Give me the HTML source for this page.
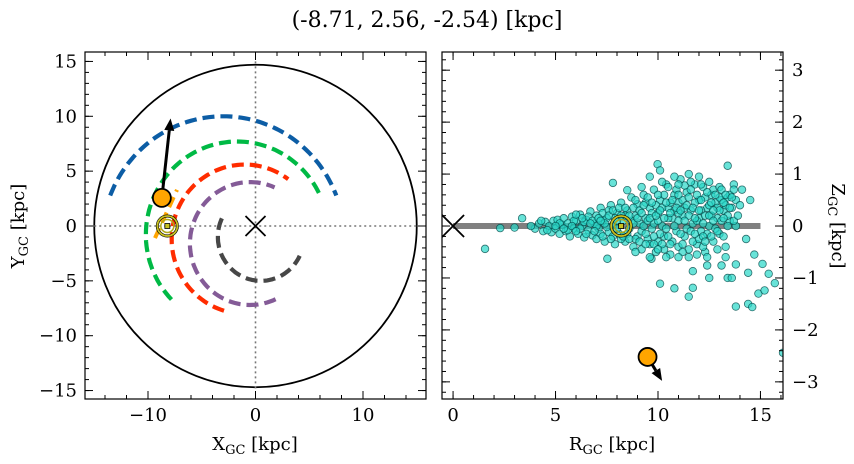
<!DOCTYPE html>
<html><head><meta charset="utf-8"><style>
body{margin:0;background:#fff}
svg{display:block;font-family:"DejaVu Serif","Liberation Serif",serif}
</style></head><body>
<svg id="c" width="854" height="464" viewBox="0 0 854 464"></svg>
<script>
// ---- data ----
const title = "(-8.71, 2.56, -2.54) [kpc]";
const starXY = [-8.71, 2.56];
const starVelEndXY = [-7.9, 9.8];
const starRZ = [9.49, -2.52];
const starVelEndRZ = [10.2, -2.98];
const sunXY = [-8.2, 0];
const sunRZ = [8.2, 0];
const leftXTicks = [-10, 0, 10];
const leftYTicks = [-15, -10, -5, 0, 5, 10, 15];
const rightXTicks = [0, 5, 10, 15];
const rightYTicks = [-3, -2, -1, 0, 1, 2, 3];
const arcNames = ["blue", "green", "red", "purple", "gray"];
const arcColors = ["#0c5da5", "#00b945", "#ff2c00", "#845b97", "#474747"];
const arcCx = [-3, -1.7, -1, -0.5, 0.5];
const arcCy = [-1.26, -0.8, -1.2, -1.6, -1];
const arcR = [11.26, 8.5, 6.8, 5.6, 4];
const arcT0 = [159, 224, 253.5, 295, 155];
const arcT1 = [21, 26, 53.5, 66, 334.6];
const orangeSeg = [[-9.35, -1.1], [-7.3, 3.3]];
const starR = [1.56,2.3,3.37,3.0,7.8,9.98,10.1,13.4,8.5,7.53,9.68,10.1,10.8,11.5,11.7,11.7,13.8,14.4,14.6,15.7,14.9,15.2,15.4,15.1,14.7,14.4,13.8,13.4,13.6,12.4,12.5,13.1,14.5,14.1,13.7,14.3,13.8,16.1,
4.0,4.2,4.4,4.5,4.7,4.8,4.9,5.0,5.1,5.2,5.3,5.4,5.5,
5.6,5.7,5.8,5.9,6.0,6.1,6.2,6.3,6.4,6.5,6.6,6.7,6.8,6.9,7.0,7.0,7.1,7.2,7.3,7.4,7.5,7.6,7.7,7.8,
7.9,8.0,8.1,8.2,8.3,8.4,8.5,8.6,8.7,8.8,8.9,9.0,9.0,9.1,9.2,9.3,9.4,9.5,9.6,9.7,9.8,9.9,10.0,10.0,
10.1,10.2,10.3,10.4,10.5,10.6,10.7,10.8,10.9,11.0,11.0,11.1,11.2,11.3,11.4,11.5,11.6,11.7,11.8,11.9,12.0,12.0,12.1,12.2,12.3,12.4,12.5,12.6,12.7,12.8,12.9,13.0,13.1,13.2,13.3,13.4,13.5,
5.2,5.6,5.9,6.2,6.4,6.6,6.8,7.0,7.2,7.3,7.5,7.6,7.8,7.9,8.0,8.2,8.4,8.5,8.7,8.8,8.9,9.1,9.2,9.3,9.4,9.5,9.6,9.7,9.8,9.9,10.0,10.1,10.2,10.3,10.4,10.5,10.6,10.7,10.8,10.9,11.0,11.1,11.2,11.3,11.4,11.5,11.6,11.7,11.8,11.9,12.0,12.1,12.2,12.3,12.4,12.5,12.6,12.7,12.8,12.9,13.0,13.1,13.2,13.3,13.4,13.5,13.6,13.7,13.8,11.5,12.2,10.3,9.8,11.0,12.6,13.0,12.0,11.5,10.8,9.6,11.3,12.5,
5.0,5.4,5.8,6.0,6.3,6.5,6.7,6.9,7.1,7.3,7.4,7.6,7.7,7.8,8.0,8.1,8.3,8.4,8.6,8.6,8.8,8.9,9.0,9.1,9.2,9.3,9.4,9.5,9.6,9.7,9.8,9.9,10.0,10.1,10.2,10.3,10.4,10.5,10.6,10.7,10.8,10.9,11.0,11.1,11.2,11.3,11.4,11.5,11.6,11.7,11.8,11.9,12.0,12.1,12.2,12.3,12.4,12.5,12.6,12.7,12.8,12.9,13.0,13.1,13.2,13.3,13.4,13.5,13.6,13.7,13.2,12.3,11.8,11.2,10.6,10.0,9.4,8.2,7.2,6.0,4.6,3.8,4.3,12.7,12.1,11.6,11.0,10.5,10.2,9.2,13.9,14.0,13.3,12.9,12.4,11.9,11.0,10.4,9.6,8.9];
const starZ = [-0.44,-0.04,0.15,-0.03,0.83,1.19,1.07,1.16,0.69,-0.63,-0.63,-1.11,-1.2,-1.36,-1.19,-0.87,-1.55,-1.5,-1.56,-1.1,-1.3,-1.24,-0.92,-0.73,-0.55,-0.9,-0.74,-1.0,-1.0,-0.76,-1.0,-0.76,0.5,0.7,0.8,-0.25,0.0,-2.44,
-0.05,0.05,-0.1,0.08,0.0,-0.12,0.1,-0.05,0.12,-0.15,0.03,0.15,-0.1,
0.05,-0.2,0.18,-0.05,0.1,-0.15,0.22,0.0,-0.22,0.12,-0.08,0.28,-0.18,0.05,0.2,-0.25,-0.05,0.35,0.1,-0.3,0.15,-0.12,0.4,0.02,
-0.35,0.25,-0.15,0.45,0.1,-0.3,0.3,-0.05,0.55,-0.4,0.2,-0.2,0.42,0.05,-0.45,0.6,0.15,-0.25,0.35,-0.05,0.7,-0.5,0.25,-0.3,
0.5,0.0,-0.2,0.8,0.35,-0.55,0.15,0.6,-0.1,0.45,-0.4,0.9,0.2,-0.2,0.65,-0.6,0.3,0.05,0.8,-0.35,0.5,0.15,-0.1,0.75,-0.5,0.35,0.0,0.6,-0.3,0.45,0.15,-0.15,0.5,0.3,-0.4,0.55,0.1,
0.05,-0.08,0.1,-0.05,0.08,0.18,0.1,0.0,-0.15,0.25,-0.02,0.3,-0.2,0.15,-0.05,-0.25,0.2,-0.15,0.1,0.35,-0.25,0.3,-0.1,0.0,0.45,0.1,-0.35,0.25,0.05,0.4,0.1,-0.15,0.35,0.6,-0.05,0.15,0.45,-0.3,0.3,0.7,0.1,-0.15,0.5,0.35,-0.05,0.2,0.7,-0.3,0.45,0.1,-0.25,0.3,0.05,0.55,-0.15,0.4,0.2,0.7,-0.05,0.35,0.55,0.1,-0.2,0.4,0.2,0.6,0.35,0.1,0.5,-0.45,-0.4,-0.45,-0.2,0.25,-0.2,0.75,0.95,1.0,0.95,0.95,0.78,0.85,
0.0,-0.05,0.0,-0.1,0.15,-0.15,0.05,-0.1,0.15,-0.2,0.05,0.2,-0.25,0.3,0.1,0.35,-0.2,0.35,0.2,-0.25,0.05,0.5,0.15,-0.3,0.25,0.4,-0.15,0.55,0.15,0.45,-0.35,0.2,0.6,0.3,-0.35,0.15,0.45,-0.2,0.25,0.5,0.0,0.35,0.6,0.3,-0.35,0.1,0.4,0.55,-0.1,0.35,0.15,0.6,0.3,0.5,-0.2,0.2,0.65,0.2,0.45,0.1,0.6,-0.1,0.3,0.7,0.45,0.6,0.0,0.35,0.55,0.7,0.15,-0.3,-0.15,-0.5,-0.35,-0.45,-0.35,0.2,0.1,0.22,-0.08,0.0,0.1,0.3,0.8,0.85,0.8,0.75,0.85,0.75,0.2,0.4,-0.6,-0.45,-0.6,-0.55,-0.6,-0.6,-0.6,-0.5];

// ---- drawing ----
const svg = document.getElementById('c');
const NS = 'http://www.w3.org/2000/svg';
function mk(tag, attrs, parent){const e=document.createElementNS(NS,tag);for(const k in attrs)e.setAttribute(k,attrs[k]);(parent||svg).appendChild(e);return e;}
const L={x0:85,x1:426,y0:52,y1:399,xmin:-15.86,xmax:15.86,ymin:-15.77,ymax:15.86};
const Rp={x0:442,x1:783,y0:52,y1:399,xmin:-0.54,xmax:16.1,ymin:-3.33,ymax:3.35};
function sx(a,v){return a.x0+(v-a.xmin)/(a.xmax-a.xmin)*(a.x1-a.x0);}
function sy(a,v){return a.y1-(v-a.ymin)/(a.ymax-a.ymin)*(a.y1-a.y0);}

let t=mk('text',{x:427,y:27,'text-anchor':'middle','font-size':22,fill:'#000'});t.textContent=title;



function clip(id,a){const cp=mk('clipPath',{id:id});mk('rect',{x:a.x0,y:a.y0,width:a.x1-a.x0,height:a.y1-a.y0},cp);}
clip('cl',L);clip('cr',Rp);

const gL=mk('g',{'clip-path':'url(#cl)'});


let c=mk('circle',{cx:sx(L,0),cy:sy(L,0),r:(sx(L,15)-sx(L,0)),fill:'none',stroke:'#000','stroke-width':1.8},gL);


let l=mk('line',{x1:sx(L,-15),x2:sx(L,15),y1:sy(L,0),y2:sy(L,0),stroke:'#777','stroke-width':1.6,'stroke-dasharray':'2,3'},gL);


l=mk('line',{x1:sx(L,0),x2:sx(L,0),y1:sy(L,15),y2:sy(L,-15),stroke:'#777','stroke-width':1.6,'stroke-dasharray':'2,3'},gL);


for(let i=0;i<arcNames.length;i++){
  let pts=[];for(let k=0;k<=80;k++){const th=(arcT0[i]+(arcT1[i]-arcT0[i])*k/80)*Math.PI/180;pts.push(sx(L,arcCx[i]+arcR[i]*Math.cos(th)).toFixed(1)+','+sy(L,arcCy[i]+arcR[i]*Math.sin(th)).toFixed(1));}
  const p=mk('polyline',{points:pts.join(' '),fill:'none',stroke:arcColors[i],'stroke-width':4.2,'stroke-dasharray':'12,6'},gL);
  
  
}
l=mk('line',{x1:sx(L,orangeSeg[0][0]),y1:sy(L,orangeSeg[0][1]),x2:sx(L,orangeSeg[1][0]),y2:sy(L,orangeSeg[1][1]),stroke:'#ffa500','stroke-width':4,'stroke-dasharray':'11,6'},gL);


function cross(g,x,y,s,name){const gg=mk('g',{stroke:'#000','stroke-width':1.8},g);mk('line',{x1:x-s,y1:y-s,x2:x+s,y2:y+s},gg);mk('line',{x1:x-s,y1:y+s,x2:x+s,y2:y-s},gg);}
cross(gL,sx(L,0),sy(L,0),10,'galactic-center-marker');
function sun(g,x,y){const gg=mk('g',{},g);mk('circle',{cx:x,cy:y,r:10,fill:'none',stroke:'#000','stroke-width':3},gg);mk('circle',{cx:x,cy:y,r:10,fill:'none',stroke:'#c8c020','stroke-width':1.8},gg);mk('circle',{cx:x,cy:y,r:6.5,fill:'none',stroke:'#b0a818','stroke-width':1.5},gg);mk('rect',{x:x-2.5,y:y-2.5,width:5,height:5,fill:'#c8c020',stroke:'#000','stroke-width':0.8},gg);}
sun(gL,sx(L,sunXY[0]),sy(L,sunXY[1]));
function arrow(g,x1,y1,x2,y2,name){const gg=mk('g',{},g);const dx=x2-x1,dy=y2-y1,len=Math.hypot(dx,dy),ux=dx/len,uy=dy/len;const hl=12,hw=5;const bx=x2-ux*hl,by=y2-uy*hl;mk('line',{x1:x1,y1:y1,x2:bx,y2:by,stroke:'#000','stroke-width':3},gg);mk('polygon',{points:`${x2},${y2} ${bx-uy*hw},${by+ux*hw} ${bx+uy*hw},${by-ux*hw}`,fill:'#000'},gg);}
arrow(gL,sx(L,starXY[0]),sy(L,starXY[1]),sx(L,starVelEndXY[0]),sy(L,starVelEndXY[1]),'velocity-arrow-xy');
c=mk('circle',{cx:sx(L,starXY[0]),cy:sy(L,starXY[1]),r:9,fill:'#ffa500',stroke:'#000','stroke-width':1.8},gL);



const gR=mk('g',{'clip-path':'url(#cr)'});


l=mk('line',{x1:sx(Rp,0),x2:sx(Rp,15),y1:sy(Rp,0),y2:sy(Rp,0),stroke:'#808080','stroke-width':6},gR);


const gs=mk('g',{},gR);


for(let i=0;i<starR.length;i++){
  const p=mk('circle',{cx:sx(Rp,starR[i]),cy:sy(Rp,starZ[i]),r:3.8,fill:'rgba(40,215,200,0.7)',stroke:'rgba(0,70,70,0.75)','stroke-width':0.8},gs);
  
  
}
cross(gR,sx(Rp,0),sy(Rp,0),11,'galactic-center-marker-rz');
sun(gR,sx(Rp,sunRZ[0]),sy(Rp,sunRZ[1]));
arrow(gR,sx(Rp,starRZ[0]),sy(Rp,starRZ[1]),sx(Rp,starVelEndRZ[0]),sy(Rp,starVelEndRZ[1]),'velocity-arrow-rz');
c=mk('circle',{cx:sx(Rp,starRZ[0]),cy:sy(Rp,starRZ[1]),r:9,fill:'#ffa500',stroke:'#000','stroke-width':1.8},gR);



function frame(a,name){const r=mk('rect',{x:a.x0,y:a.y0,width:a.x1-a.x0,height:a.y1-a.y0,fill:'none',stroke:'#000','stroke-width':1.2});}
frame(L,'xy-axes-frame');frame(Rp,'rz-axes-frame');
function ticks(a,axis,from,to,step,len){const g=mk('g',{stroke:'#000','stroke-width':1});const n=Math.round((to-from)/step);for(let k=0;k<=n;k++){const v=from+k*step;if(axis==='x'){const x=sx(a,v);if(x<a.x0-0.5||x>a.x1+0.5)continue;mk('line',{x1:x,x2:x,y1:a.y1,y2:a.y1-len},g);mk('line',{x1:x,x2:x,y1:a.y0,y2:a.y0+len},g);}else{const y=sy(a,v);if(y<a.y0-0.5||y>a.y1+0.5)continue;mk('line',{x1:a.x0,x2:a.x0+len,y1:y,y2:y},g);mk('line',{x1:a.x1,x2:a.x1-len,y1:y,y2:y},g);}}return g;}
ticks(L,'x',-16,16,2,4);ticks(L,'x',-10,10,10,8);ticks(L,'y',-15,15,1,4);ticks(L,'y',-15,15,5,8);
ticks(Rp,'x',0,16,1,4);ticks(Rp,'x',0,15,5,8);ticks(Rp,'y',-3.2,3.2,0.2,4);ticks(Rp,'y',-3,3,1,8);
function lab(x,y,s,anchor,name){const e=mk('text',{x:x,y:y,'text-anchor':anchor,'font-size':18,fill:'#000'});e.textContent=s;return e;}
function fmt(v){return v<0?'\u2212'+Math.abs(v):String(v);}
leftXTicks.forEach(v=>lab(sx(L,v),421,fmt(v),'middle','x-tick-label'));
leftYTicks.forEach(v=>lab(77,sy(L,v)+6,fmt(v),'end','y-tick-label'));
rightXTicks.forEach(v=>lab(sx(Rp,v),421,fmt(v),'middle','r-tick-label'));
rightYTicks.forEach(v=>lab(792,sy(Rp,v)+6,fmt(v),'start','z-tick-label'));
function axlabel(x,y,main,rot,name){const e=mk('text',{x:x,y:y,'text-anchor':'middle','font-size':18,fill:'#000'});if(rot)e.setAttribute('transform',`rotate(${rot} ${x} ${y})`);e.innerHTML=main[0]+'<tspan font-size="13" dy="4">GC</tspan><tspan dy="-4"> [kpc]</tspan>';}
axlabel(255,450,'X',0,'x-axis-title');
axlabel(612,450,'R',0,'r-axis-title');
axlabel(24,226,'Y',-90,'y-axis-title');
axlabel(832,226,'Z',90,'z-axis-title');
</script>
</body></html>
